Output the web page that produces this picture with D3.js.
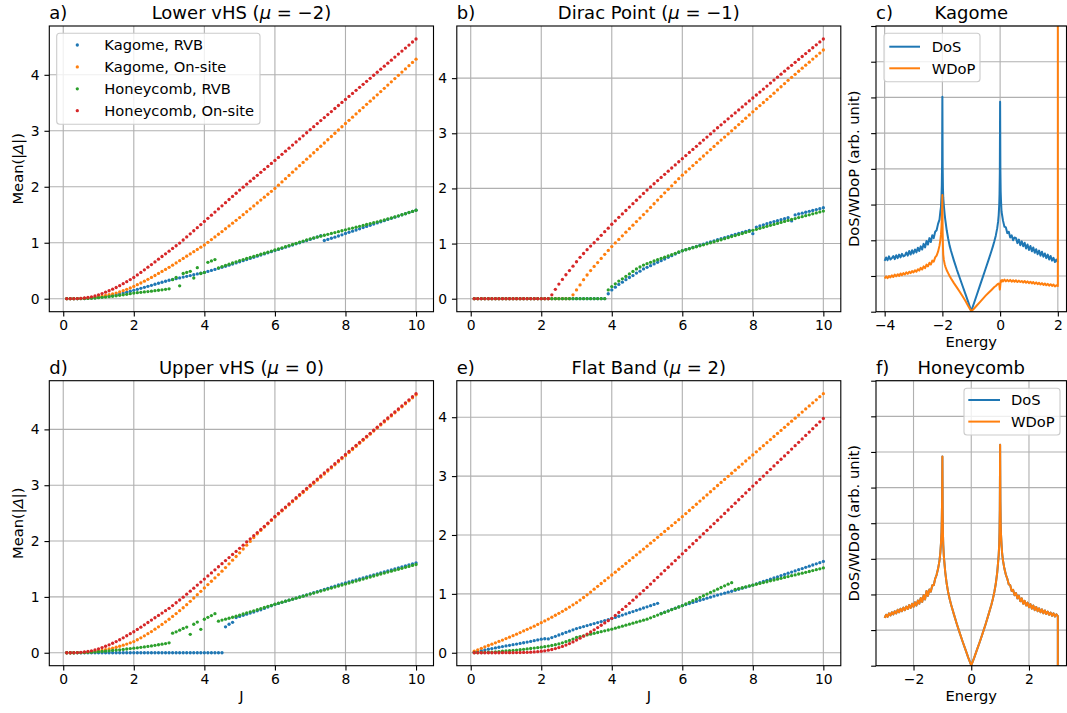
<!DOCTYPE html>
<html><head><meta charset="utf-8">
<script src="https://cdn.jsdelivr.net/npm/d3@7"></script>
<style>body{margin:0;background:#fff}svg{display:block}</style>
</head><body><svg id="fig" width="1067" height="713"></svg>
<script>
// ---------------- data ----------------
const J = [0.1,0.2,0.3,0.4,0.5,0.6,0.7,0.8,0.9,1.0,1.1,1.2,1.3,1.4,1.5,1.6,1.7,1.8,1.9,2.0,
2.1,2.2,2.3,2.4,2.5,2.6,2.7,2.8,2.9,3.0,3.1,3.2,3.3,3.4,3.5,3.6,3.7,3.8,3.9,4.0,
4.1,4.2,4.3,4.4,4.5,4.6,4.7,4.8,4.9,5.0,5.1,5.2,5.3,5.4,5.5,5.6,5.7,5.8,5.9,6.0,
6.1,6.2,6.3,6.4,6.5,6.6,6.7,6.8,6.9,7.0,7.1,7.2,7.3,7.4,7.5,7.6,7.7,7.8,7.9,8.0,
8.1,8.2,8.3,8.4,8.5,8.6,8.7,8.8,8.9,9.0,9.1,9.2,9.3,9.4,9.5,9.6,9.7,9.8,9.9,10.0];

const seriesNames = ["Kagome, RVB","Kagome, On-site","Honeycomb, RVB","Honeycomb, On-site"];

// a) Lower vHS (mu=-2)
const aKagRVB = [0,0,0,0.001,0.002,0.004,0.007,0.011,0.017,0.025,
0.032,0.041,0.05,0.06,0.072,0.086,0.101,0.117,0.133,0.15,
0.168,0.186,0.204,0.222,0.24,0.258,0.276,0.294,0.312,0.33,
0.344,0.358,0.372,0.386,0.4,0.414,0.428,0.442,0.456,0.47,
0.488,0.506,0.524,0.542,0.56,0.58,0.6,0.62,0.64,0.66,
0.68,0.7,0.72,0.74,0.76,0.78,0.8,0.82,0.84,0.86,
0.88,0.9,0.92,0.94,0.96,0.98,1.0,1.02,1.04,1.06,
1.082,1.104,1.125,1.04,1.06,1.08,1.1,1.12,1.142,1.165,
1.186,1.207,1.228,1.249,1.27,1.291,1.312,1.333,1.354,1.375,
1.395,1.416,1.436,1.457,1.477,1.498,1.518,1.539,1.559,1.58];
const aKagOn = [0,0,0.001,0.002,0.004,0.007,0.011,0.017,0.025,0.035,
0.046,0.058,0.071,0.085,0.1,0.121,0.144,0.168,0.193,0.22,
0.25,0.281,0.313,0.346,0.38,0.415,0.451,0.487,0.523,0.56,
0.6,0.64,0.68,0.72,0.76,0.8,0.84,0.88,0.92,0.96,
1.008,1.056,1.104,1.152,1.2,1.25,1.3,1.35,1.4,1.45,
1.502,1.554,1.606,1.658,1.71,1.762,1.814,1.866,1.918,1.97,
2.028,2.086,2.144,2.202,2.26,2.318,2.376,2.434,2.492,2.55,
2.608,2.666,2.724,2.782,2.84,2.898,2.956,3.014,3.072,3.13,
3.187,3.244,3.301,3.358,3.415,3.472,3.529,3.586,3.643,3.7,
3.758,3.816,3.874,3.932,3.99,4.048,4.106,4.164,4.222,4.28];
const aHcRVB = [0,0,0,0.001,0.002,0.004,0.006,0.009,0.013,0.018,
0.024,0.03,0.037,0.044,0.052,0.06,0.069,0.079,0.09,0.1,
0.107,0.114,0.121,0.128,0.135,0.143,0.151,0.159,0.168,0.177,
0.34,0.38,0.23,0.45,0.47,0.49,0.37,0.555,0.45,0.47,
0.65,0.675,0.7,0.55,0.575,0.596,0.617,0.638,0.659,0.68,
0.699,0.718,0.737,0.756,0.775,0.794,0.813,0.832,0.851,0.87,
0.89,0.91,0.93,0.95,0.97,0.99,1.01,1.03,1.05,1.07,
1.086,1.102,1.118,1.134,1.15,1.166,1.182,1.198,1.214,1.23,
1.246,1.262,1.278,1.294,1.31,1.326,1.342,1.358,1.374,1.39,
1.408,1.426,1.444,1.462,1.48,1.5,1.52,1.54,1.56,1.58];
const aHcOn = [0,0,0.001,0.003,0.007,0.013,0.022,0.034,0.05,0.07,
0.092,0.116,0.142,0.17,0.2,0.233,0.268,0.304,0.342,0.38,
0.425,0.47,0.516,0.563,0.61,0.658,0.706,0.754,0.802,0.85,
0.898,0.946,0.994,1.049,1.104,1.159,1.214,1.269,1.324,1.38,
1.436,1.492,1.548,1.604,1.66,1.716,1.772,1.828,1.884,1.94,
1.993,2.046,2.099,2.152,2.205,2.258,2.311,2.364,2.417,2.47,
2.525,2.58,2.635,2.69,2.745,2.8,2.855,2.91,2.965,3.02,
3.074,3.128,3.182,3.236,3.29,3.344,3.398,3.452,3.506,3.56,
3.614,3.668,3.722,3.776,3.83,3.884,3.938,3.992,4.046,4.1,
4.154,4.208,4.262,4.316,4.37,4.424,4.478,4.532,4.586,4.64];

// b) Dirac point (mu=-1)
const bKagRVB = [0,0,0,0,0,0,0,0,0,0, 0,0,0,0,0,0,0,0,0,0, 0,0,0,0,0,0,0,0,0,0,
0,0,0,0,0,0,0,0,0.09,0.16,
0.21,0.26,0.3,0.345,0.385,0.42,0.465,0.5,0.54,0.57,
0.6,0.63,0.66,0.69,0.72,0.75,0.78,0.81,0.84,0.87,
0.89,0.91,0.93,0.95,0.97,0.99,1.01,1.03,1.05,1.07,
1.089,1.108,1.127,1.146,1.165,1.184,1.203,1.222,1.241,1.18,
1.3,1.32,1.34,1.36,1.38,1.398,1.416,1.434,1.452,1.47,
1.41,1.52,1.536,1.552,1.568,1.584,1.6,1.617,1.633,1.65];
const bKagOn = [0,0,0,0,0,0,0,0,0,0, 0,0,0,0,0,0,0,0,0,0,
0,0,0,0,0,0,0,0,0.07,0.16,
0.25,0.345,0.43,0.51,0.585,0.655,0.73,0.805,0.875,0.945,
1.011,1.076,1.141,1.206,1.27,1.334,1.398,1.462,1.526,1.59,
1.656,1.722,1.788,1.854,1.92,1.984,2.048,2.112,2.176,2.24,
2.298,2.356,2.414,2.472,2.53,2.588,2.646,2.704,2.762,2.82,
2.876,2.932,2.988,3.044,3.1,3.158,3.216,3.274,3.332,3.39,
3.446,3.502,3.558,3.614,3.67,3.728,3.786,3.844,3.902,3.96,
4.015,4.07,4.125,4.18,4.235,4.29,4.345,4.4,4.455,4.51];
const bHcRVB = [0,0,0,0,0,0,0,0,0,0, 0,0,0,0,0,0,0,0,0,0, 0,0,0,0,0,0,0,0,0,0,
0,0,0,0,0,0,0,0,0.16,0.22,
0.27,0.32,0.36,0.405,0.45,0.495,0.54,0.575,0.61,0.635,
0.66,0.684,0.707,0.73,0.753,0.776,0.799,0.823,0.847,0.87,
0.888,0.906,0.924,0.942,0.96,0.978,0.996,1.014,1.032,1.05,
1.069,1.088,1.107,1.126,1.145,1.164,1.183,1.202,1.221,1.24,
1.258,1.276,1.294,1.312,1.33,1.348,1.366,1.384,1.402,1.42,
1.437,1.454,1.471,1.488,1.505,1.522,1.539,1.556,1.573,1.59];
const bHcOn = [0,0,0,0,0,0,0,0,0,0, 0,0,0,0,0,0,0,0,0,0,
0,0,0.07,0.17,0.265,0.35,0.435,0.51,0.59,0.67,
0.75,0.82,0.89,0.955,1.015,1.08,1.15,1.215,1.28,1.35,
1.413,1.476,1.538,1.6,1.662,1.724,1.786,1.848,1.909,1.97,
2.028,2.085,2.142,2.199,2.256,2.313,2.37,2.427,2.484,2.54,
2.596,2.652,2.708,2.764,2.82,2.876,2.932,2.988,3.044,3.1,
3.154,3.208,3.262,3.316,3.37,3.424,3.478,3.532,3.586,3.64,
3.694,3.748,3.802,3.856,3.91,3.964,4.018,4.072,4.126,4.18,
4.233,4.286,4.339,4.392,4.445,4.498,4.551,4.604,4.657,4.71];

// d) Upper vHS (mu=0)
const dKagRVB = [0,0,0,0,0,0,0,0,0,0, 0,0,0,0,0,0,0,0,0,0, 0,0,0,0,0,0,0,0,0,0, 0,0,0,0,0,0,0,0,0,0,
0,0,0,0,0,0.465,0.51,0.545,0.63,0.65,
0.67,0.69,0.71,0.73,0.75,0.77,0.794,0.818,0.842,0.865,
0.884,0.903,0.922,0.941,0.96,0.979,0.998,1.017,1.036,1.055,
1.074,1.094,1.114,1.134,1.154,1.174,1.194,1.214,1.232,1.25,
1.268,1.286,1.304,1.322,1.34,1.358,1.376,1.394,1.412,1.43,
1.448,1.466,1.484,1.502,1.52,1.538,1.556,1.574,1.592,1.61];
const dKagOn = [0,0,0,0.001,0.003,0.006,0.01,0.016,0.023,0.032,
0.042,0.054,0.067,0.082,0.098,0.116,0.135,0.155,0.177,0.2,
0.233,0.267,0.303,0.341,0.38,0.422,0.464,0.507,0.553,0.6,
0.65,0.701,0.753,0.806,0.86,0.92,0.98,1.04,1.1,1.16,
1.22,1.28,1.34,1.4,1.46,1.526,1.592,1.658,1.724,1.79,
1.858,1.926,1.994,2.062,2.13,2.19,2.25,2.31,2.37,2.43,
2.485,2.54,2.595,2.65,2.705,2.76,2.815,2.87,2.925,2.98,
3.035,3.09,3.145,3.2,3.255,3.31,3.365,3.42,3.475,3.53,
3.585,3.64,3.695,3.75,3.805,3.86,3.915,3.97,4.025,4.08,
4.134,4.188,4.242,4.296,4.35,4.404,4.458,4.512,4.566,4.62];
const dHcRVB = [0,0,0,0.001,0.002,0.004,0.006,0.01,0.014,0.019,
0.024,0.029,0.035,0.041,0.047,0.053,0.06,0.067,0.074,0.081,
0.089,0.097,0.105,0.114,0.123,0.133,0.143,0.154,0.165,0.177,
0.35,0.375,0.405,0.435,0.46,0.33,0.51,0.55,0.42,0.6,
0.635,0.665,0.7,0.565,0.585,0.602,0.618,0.636,0.655,0.675,
0.694,0.713,0.732,0.751,0.77,0.79,0.81,0.83,0.85,0.87,
0.888,0.906,0.924,0.942,0.96,0.978,0.996,1.014,1.032,1.05,
1.068,1.086,1.104,1.122,1.14,1.158,1.176,1.194,1.212,1.23,
1.248,1.266,1.284,1.302,1.32,1.338,1.356,1.374,1.392,1.41,
1.427,1.444,1.461,1.478,1.495,1.512,1.529,1.546,1.563,1.58];
const dHcOn = [0,0,0.001,0.003,0.007,0.013,0.022,0.034,0.05,0.07,
0.092,0.116,0.142,0.17,0.2,0.233,0.268,0.304,0.341,0.376,
0.417,0.458,0.5,0.542,0.585,0.627,0.669,0.711,0.753,0.795,
0.845,0.895,0.945,0.995,1.049,1.103,1.157,1.211,1.265,1.32,
1.375,1.43,1.485,1.54,1.595,1.65,1.705,1.76,1.815,1.87,
1.927,1.984,2.04,2.096,2.152,2.208,2.264,2.32,2.38,2.44,
2.496,2.552,2.608,2.664,2.72,2.776,2.832,2.888,2.944,3.0,
3.055,3.11,3.165,3.22,3.275,3.33,3.385,3.44,3.495,3.55,
3.605,3.66,3.714,3.768,3.822,3.876,3.93,3.985,4.04,4.095,
4.15,4.204,4.258,4.312,4.366,4.42,4.475,4.53,4.585,4.64];

// e) Flat band (mu=2)
const eKagRVB = [0.01,0.022,0.035,0.048,0.06,0.071,0.082,0.093,0.104,0.115,
0.126,0.137,0.148,0.159,0.17,0.181,0.193,0.205,0.217,0.23,
0.238,0.235,0.257,0.279,0.301,0.323,0.345,0.367,0.389,0.41,
0.427,0.444,0.461,0.478,0.495,0.512,0.529,0.546,0.563,0.58,
0.6,0.62,0.64,0.66,0.68,0.7,0.72,0.74,0.76,0.78,
0.8,0.82,0.84,0.67,0.69,0.712,0.734,0.756,0.778,0.8,
0.818,0.836,0.854,0.872,0.89,0.908,0.926,0.944,0.962,0.98,
0.996,1.012,1.028,1.044,1.06,1.078,1.096,1.114,1.132,1.15,
1.17,1.19,1.21,1.23,1.25,1.27,1.29,1.31,1.33,1.35,
1.37,1.39,1.41,1.43,1.45,1.47,1.49,1.51,1.53,1.55];
const eKagOn = [0.025,0.05,0.075,0.1,0.123,0.146,0.169,0.192,0.216,0.24,
0.265,0.29,0.316,0.343,0.37,0.397,0.424,0.452,0.481,0.51,
0.541,0.572,0.604,0.637,0.67,0.704,0.739,0.776,0.813,0.85,
0.894,0.938,0.984,1.031,1.08,1.128,1.176,1.224,1.272,1.32,
1.369,1.418,1.467,1.516,1.565,1.614,1.663,1.712,1.761,1.81,
1.86,1.91,1.96,2.01,2.06,2.11,2.16,2.21,2.26,2.31,
2.363,2.416,2.469,2.522,2.575,2.628,2.681,2.734,2.787,2.84,
2.892,2.944,2.996,3.048,3.1,3.152,3.204,3.256,3.308,3.36,
3.412,3.464,3.516,3.568,3.62,3.672,3.724,3.776,3.828,3.88,
3.932,3.984,4.036,4.088,4.14,4.192,4.244,4.296,4.348,4.4];
const eHcRVB = [0.001,0.002,0.004,0.006,0.009,0.012,0.016,0.02,0.025,0.03,
0.035,0.04,0.046,0.052,0.058,0.065,0.072,0.079,0.086,0.094,
0.103,0.113,0.124,0.136,0.149,0.168,0.188,0.209,0.233,0.26,
0.274,0.288,0.302,0.316,0.33,0.344,0.358,0.372,0.386,0.4,
0.417,0.434,0.451,0.468,0.485,0.502,0.519,0.536,0.553,0.57,
0.593,0.616,0.639,0.662,0.685,0.708,0.731,0.754,0.777,0.8,
0.828,0.856,0.884,0.912,0.94,0.968,0.996,1.024,1.052,1.08,
1.108,1.136,1.164,1.19,1.075,1.09,1.104,1.119,1.134,1.148,
1.163,1.177,1.192,1.206,1.221,1.235,1.25,1.264,1.279,1.293,
1.308,1.322,1.337,1.351,1.366,1.38,1.395,1.41,1.425,1.44];
const eHcOn = [0,0,0,0,0,0,0,0,0.001,0.001,
0.002,0.002,0.003,0.004,0.005,0.007,0.01,0.014,0.019,0.025,
0.033,0.043,0.055,0.07,0.088,0.108,0.13,0.155,0.184,0.215,
0.248,0.282,0.317,0.353,0.39,0.428,0.467,0.506,0.545,0.585,
0.634,0.684,0.735,0.787,0.84,0.893,0.947,1.0,1.055,1.11,
1.167,1.224,1.281,1.338,1.395,1.452,1.509,1.566,1.623,1.68,
1.737,1.794,1.851,1.908,1.965,2.022,2.079,2.136,2.193,2.25,
2.308,2.366,2.424,2.482,2.54,2.598,2.656,2.714,2.772,2.83,
2.887,2.944,3.001,3.058,3.115,3.172,3.229,3.286,3.343,3.4,
3.458,3.516,3.574,3.632,3.69,3.748,3.806,3.864,3.922,3.98];

// c) Kagome DoS / WDoP
const kagE = [-4.00,-3.95,-3.90,-3.85,-3.80,-3.75,-3.70,-3.65,-3.60,-3.55,-3.50,-3.45,-3.40,-3.35,-3.30,-3.25,-3.20,-3.15,-3.10,-3.05,
-3.00,-2.95,-2.90,-2.85,-2.80,-2.75,-2.70,-2.65,-2.60,-2.55,-2.50,-2.45,-2.40,-2.35,-2.30,-2.25,-2.20,
-2.15,-2.10,-2.07,-2.05,-2.03,-2.02,-2.01,-2.00,-1.99,-1.98,-1.97,-1.95,-1.92,-1.90,-1.85,-1.80,-1.75,-1.70,
-1.60,-1.50,-1.40,-1.30,-1.20,-1.10,-1.00,-0.90,-0.80,-0.70,-0.60,-0.50,-0.40,-0.30,-0.25,-0.20,-0.15,-0.10,-0.07,-0.05,-0.03,-0.02,-0.01,0.00,
0.01,0.02,0.03,0.05,0.07,0.10,0.15,0.20,0.25,0.30,0.35,0.40,0.45,0.50,
0.55,0.60,0.65,0.70,0.75,0.80,0.85,0.90,0.95,1.00,1.05,1.10,1.15,1.20,1.25,1.30,1.35,1.40,1.45,1.50,
1.55,1.60,1.65,1.70,1.75,1.80,1.85,1.90,1.95,2.00,2.0001];
const kagDos = [1.42,1.52,1.44,1.55,1.46,1.50,1.56,1.47,1.58,1.50,1.60,1.52,1.62,1.55,1.57,1.66,1.57,1.70,1.60,1.72,
1.63,1.74,1.66,1.79,1.70,1.83,1.74,1.90,1.80,1.98,1.88,2.06,1.95,2.14,2.06,2.24,2.28,
2.46,2.58,2.80,2.93,3.27,3.53,4.17,6.02,4.05,3.45,3.20,2.98,2.72,2.58,2.28,2.05,1.85,1.70,
1.43,1.18,0.95,0.72,0.49,0.26,0.02,0.25,0.49,0.73,0.97,1.21,1.45,1.70,1.83,1.97,2.13,2.34,2.52,2.70,3.00,3.30,3.90,5.88,
3.95,3.35,3.12,2.80,2.70,2.55,2.38,2.36,2.20,2.24,2.08,2.14,2.00,2.08,
2.06,1.92,2.02,1.86,1.97,1.83,1.93,1.77,1.88,1.73,1.84,1.69,1.80,1.65,1.75,1.61,1.71,1.57,1.68,1.54,
1.63,1.50,1.60,1.46,1.56,1.43,1.51,1.39,1.46,1.38,1.38];
const kagWdop = [0.93,0.99,0.94,1.00,0.96,1.02,0.97,1.04,0.99,1.05,1.00,1.07,1.02,1.08,1.04,1.10,1.06,1.12,1.08,1.14,
1.10,1.16,1.12,1.19,1.15,1.23,1.18,1.27,1.22,1.32,1.27,1.37,1.32,1.43,1.40,1.52,1.57,
1.68,1.85,2.00,2.15,2.40,2.60,2.90,3.27,2.20,1.80,1.60,1.45,1.33,1.27,1.16,1.08,1.00,0.93,
0.80,0.68,0.56,0.43,0.30,0.15,0.01,0.09,0.18,0.27,0.36,0.45,0.53,0.61,0.65,0.69,0.72,0.76,0.78,0.79,0.78,0.70,0.62,0.68,
0.78,0.84,0.87,0.84,0.89,0.85,0.90,0.85,0.89,0.85,0.89,0.84,0.88,0.84,
0.88,0.83,0.87,0.83,0.86,0.82,0.86,0.81,0.85,0.80,0.84,0.79,0.83,0.78,0.82,0.77,0.81,0.76,0.80,0.75,
0.79,0.74,0.78,0.73,0.77,0.72,0.76,0.71,0.74,0.72,40];

// f) Honeycomb DoS / WDoP
const hcE = [-3.00,-2.95,-2.90,-2.85,-2.80,-2.75,-2.70,-2.65,-2.60,-2.55,-2.50,-2.45,-2.40,-2.35,-2.30,-2.25,-2.20,-2.15,-2.10,-2.05,
-2.00,-1.95,-1.90,-1.85,-1.80,-1.75,-1.70,-1.65,-1.60,-1.55,-1.50,-1.45,-1.40,-1.35,-1.30,-1.25,
-1.20,-1.15,-1.10,-1.07,-1.05,-1.03,-1.02,-1.01,-1.00,-0.99,-0.98,-0.97,-0.95,-0.92,-0.90,-0.85,-0.80,-0.75,-0.70,
-0.60,-0.50,-0.40,-0.30,-0.20,-0.10,0.00,0.10,0.20,0.30,0.40,0.50,0.60,
0.70,0.75,0.80,0.85,0.90,0.92,0.95,0.97,0.98,0.99,1.00,1.01,1.02,1.03,1.05,1.07,1.10,1.15,1.20,
1.25,1.30,1.35,1.40,1.45,1.50,1.55,1.60,1.65,1.70,1.75,1.80,1.85,1.90,1.95,2.00,2.05,2.10,2.15,2.20,
2.25,2.30,2.35,2.40,2.45,2.50,2.55,2.60,2.65,2.70,2.75,2.80,2.85,2.90,2.95,3.00,3.0001];
const hcDos = [1.34,1.43,1.37,1.47,1.41,1.50,1.44,1.53,1.47,1.57,1.50,1.60,1.53,1.63,1.56,1.66,1.59,1.70,1.62,1.74,
1.65,1.78,1.69,1.83,1.74,1.90,1.79,1.98,1.86,2.10,1.96,2.14,2.08,2.26,2.26,2.44,
2.55,2.72,2.95,3.18,3.42,3.75,4.10,4.70,5.87,4.30,3.70,3.40,3.08,2.80,2.62,2.30,2.06,1.88,1.72,
1.44,1.17,0.92,0.68,0.45,0.22,0.01,0.22,0.45,0.68,0.92,1.17,1.44,
1.72,1.88,2.07,2.30,2.62,2.80,3.10,3.42,3.75,4.40,6.20,4.60,4.00,3.70,3.40,3.15,2.95,2.72,2.55,
2.44,2.28,2.26,2.10,2.13,1.98,2.04,1.89,1.96,1.81,1.89,1.74,1.82,1.69,1.77,1.64,1.73,1.60,1.69,1.56,
1.65,1.53,1.61,1.50,1.58,1.47,1.55,1.45,1.52,1.43,1.49,1.40,1.47,1.38,1.44,1.39,0];
const hcWdop = hcDos.slice(); // identical curves in the reference (orange covers blue)

// ticks / labels
const jTicks = [0,2,4,6,8,10];
const deltaTicks = [0,1,2,3,4];
const kagETicks = [-4,-2,0,2];
const hcETicks = [-2,0,2];
const dosTicks = [0,1,2,3,4,5,6,7,8];
const dosLimits = [0,8];
const lineNames = ["DoS","WDoP"];

// ---------------- drawing ----------------
const FONT = '"DejaVu Sans", "Noto Sans", sans-serif';
const COL = ['#1f77b4','#ff7f0e','#2ca02c','#d62728'];
const LW = 1.11, TICK = 4.86, FS = 13.9, LFS = 14.7, TFS = 18;
const svg = d3.select('#fig');
svg.append('rect').attr('width',1067).attr('height',713).attr('fill','#fff');
let clipN = 0;

function makeAxes(o){
  const x = d3.scaleLinear().domain(o.xDomain).range([o.left,o.right]);
  const y = d3.scaleLinear().domain(o.yDomain).range([o.bottom,o.top]);
  const g = svg.append('g');
  const grid = g.append('g').attr('stroke','#b0b0b0').attr('stroke-width',LW);
  o.xTicks.forEach(t=>grid.append('line').attr('x1',x(t)).attr('x2',x(t)).attr('y1',o.top).attr('y2',o.bottom));
  o.yTicks.forEach(t=>grid.append('line').attr('y1',y(t)).attr('y2',y(t)).attr('x1',o.left).attr('x2',o.right));
  const id = 'clip'+(clipN++);
  g.append('clipPath').attr('id',id).append('rect')
    .attr('x',o.left).attr('y',o.top).attr('width',o.right-o.left).attr('height',o.bottom-o.top);
  const plot = g.append('g').attr('clip-path',`url(#${id})`);
  const frame = g.append('g');
  frame.append('rect').attr('x',o.left).attr('y',o.top).attr('width',o.right-o.left).attr('height',o.bottom-o.top)
    .attr('fill','none').attr('stroke','#000').attr('stroke-width',LW);
  const xa = frame.append('g').attr('transform',`translate(0,${o.bottom})`)
    .call(d3.axisBottom(x).tickValues(o.xTicks).tickSize(TICK).tickPadding(3.1).tickFormat(d3.format('d')));
  const ya = frame.append('g').attr('transform',`translate(${o.left},0)`)
    .call(d3.axisLeft(y).tickValues(o.yTicks).tickSize(TICK).tickPadding(4.86)
      .tickFormat(o.yLabels ? d3.format('d') : ()=>''));
  [xa,ya].forEach(a=>{
    a.select('.domain').remove();
    a.attr('font-family',null).attr('font-size',null);
    a.selectAll('line').attr('stroke','#000').attr('stroke-width',LW);
    a.selectAll('text').attr('font-family',FONT).attr('font-size',FS).attr('fill','#000');
  });
  const cx = (o.left+o.right)/2;
  const ty = o.top-7;
  const t = g.append('text').attr('x',cx).attr('y',ty).attr('text-anchor','middle')
    .attr('font-family',FONT).attr('font-size',TFS);
  o.title.forEach(p=>{ t.append('tspan').attr('font-style',p.it?'italic':null).text(p.s); });
  g.append('text').attr('x',o.left).attr('y',ty).attr('font-family',FONT).attr('font-size',TFS).text(o.letter);
  if(o.xlabel) g.append('text').attr('x',cx).attr('y',o.bottom+35.5).attr('text-anchor','middle')
    .attr('font-family',FONT).attr('font-size',LFS).text(o.xlabel);
  if(o.ylabel){
    const yl = g.append('text').attr('transform',`translate(${o.ylabelX},${(o.top+o.bottom)/2}) rotate(-90)`)
      .attr('text-anchor','middle').attr('font-family',FONT).attr('font-size',LFS);
    o.ylabel.forEach(p=>{ yl.append('tspan').attr('font-style',p.it?'italic':null).text(p.s); });
  }
  return {x,y,plot,g};
}

function scatterPanel(o, series){
  const all = series.flat();
  const ymin = d3.min(all), ymax = d3.max(all), pad = 0.05*(ymax-ymin);
  const jr = d3.extent(J), jp = 0.05*(jr[1]-jr[0]);
  const ax = makeAxes(Object.assign({xDomain:[jr[0]-jp,jr[1]+jp], yDomain:[ymin-pad,ymax+pad],
    xTicks:jTicks, yTicks:deltaTicks, yLabels:true}, o));
  series.forEach((vals,i)=>{
    ax.plot.append('g').attr('fill',COL[i]).selectAll('circle').data(d3.zip(J,vals)).join('circle')
      .attr('cx',d=>ax.x(d[0])).attr('cy',d=>ax.y(d[1])).attr('r',1.65);
  });
  return ax;
}

function linePanel(o, E, curves){
  const er = d3.extent(E), ep = 0.05*(er[1]-er[0]);
  const ax = makeAxes(Object.assign({xDomain:[er[0]-ep,er[1]+ep], yDomain:dosLimits,
    yTicks:dosTicks, yLabels:false}, o));
  const line = d3.line().x(d=>ax.x(d[0])).y(d=>ax.y(d[1]));
  curves.forEach((vals,i)=>{
    ax.plot.append('path').attr('d',line(d3.zip(E,vals))).attr('fill','none')
      .attr('stroke',COL[i]).attr('stroke-width',2.0).attr('stroke-linejoin','round');
  });
  return ax;
}

function legendBox(x,y,w,h){
  svg.append('rect').attr('x',x).attr('y',y).attr('width',w).attr('height',h).attr('rx',3)
    .attr('fill','#fff').attr('fill-opacity',0.8).attr('stroke','#cccccc').attr('stroke-width',LW);
}

const L = 49.3, R = 433.5, L2 = 456.8, R2 = 840.8, L3 = 876, R3 = 1066.5;
const T1 = 26, B1 = 311.7, T2 = 380.7, B2 = 665.7;
const deltaLabel = [{s:'Mean(|'},{s:'Δ',it:true},{s:'|)'}];
const dosLabel = [{s:'DoS/WDoP (arb. unit)'}];

scatterPanel({left:L,right:R,top:T1,bottom:B1,letter:'a)',
  title:[{s:'Lower vHS ('},{s:'μ',it:true},{s:' = −2)'}], ylabel:deltaLabel, ylabelX:22.5},
  [aKagRVB,aKagOn,aHcRVB,aHcOn]);
scatterPanel({left:L2,right:R2,top:T1,bottom:B1,letter:'b)',
  title:[{s:'Dirac Point ('},{s:'μ',it:true},{s:' = −1)'}]},
  [bKagRVB,bKagOn,bHcRVB,bHcOn]);
scatterPanel({left:L,right:R,top:T2,bottom:B2,letter:'d)',
  title:[{s:'Upper vHS ('},{s:'μ',it:true},{s:' = 0)'}], ylabel:deltaLabel, ylabelX:22.5, xlabel:'J'},
  [dKagRVB,dKagOn,dHcRVB,dHcOn]);
scatterPanel({left:L2,right:R2,top:T2,bottom:B2,letter:'e)',
  title:[{s:'Flat Band ('},{s:'μ',it:true},{s:' = 2)'}], xlabel:'J'},
  [eKagRVB,eKagOn,eHcRVB,eHcOn]);
linePanel({left:L3,right:R3,top:T1,bottom:B1,letter:'c)',title:[{s:'Kagome'}],
  xTicks:kagETicks, xlabel:'Energy', ylabel:dosLabel, ylabelX:858.5}, kagE, [kagDos,kagWdop]);
linePanel({left:L3,right:R3,top:T2,bottom:B2,letter:'f)',title:[{s:'Honeycomb'}],
  xTicks:hcETicks, xlabel:'Energy', ylabel:dosLabel, ylabelX:858.5}, hcE, [hcDos,hcWdop]);

// legends
legendBox(56.7,33.3,203.3,91);
seriesNames.forEach((n,i)=>{
  const ry = 45 + i*21.9;
  svg.append('circle').attr('cx',77.3).attr('cy',ry).attr('r',1.65).attr('fill',COL[i]);
  svg.append('text').attr('x',104.3).attr('y',ry+5.3).attr('font-family',FONT).attr('font-size',LFS).text(n);
});
function lineLegend(bx,by,bw,bh,x1,x2,tx,r0){
  legendBox(bx,by,bw,bh);
  lineNames.forEach((n,i)=>{
    const ry = r0 + i*21.6;
    svg.append('line').attr('x1',x1).attr('x2',x2).attr('y1',ry).attr('y2',ry).attr('stroke',COL[i]).attr('stroke-width',2.0);
    svg.append('text').attr('x',tx).attr('y',ry+5.3).attr('font-family',FONT).attr('font-size',LFS).text(n);
  });
}
lineLegend(884,33.3,96,48.4,889.3,920,931.7,46.7);
lineLegend(964,388.3,96,46.7,968.3,1000,1011,400);
</script></body></html>
